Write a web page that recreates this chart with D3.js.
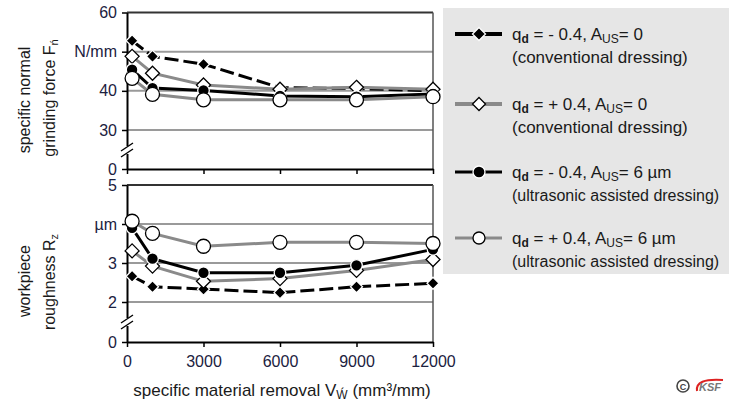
<!DOCTYPE html>
<html><head><meta charset="utf-8">
<script src="https://cdn.jsdelivr.net/npm/d3@7"></script>
<style>
body{margin:0;background:#fff}
svg{display:block}
text{font-family:"Liberation Sans",Arial,sans-serif}
</style>
</head><body><svg id="chart" width="729" height="403"></svg>
<script>
// specific material removal V'w (mm³/mm)
const removal = [200, 1000, 3000, 6000, 9000, 12000];
const xTicks = [0, 3000, 6000, 9000, 12000];

// specific normal grinding force F'n (N/mm)
const forceConvNeg  = [52.8, 48.8, 46.8, 40.8, 40.6, 40.0];
const forceConvPos  = [48.8, 44.5, 41.5, 40.4, 40.9, 40.4];
const forceUltraNeg = [45.4, 40.7, 40.1, 38.7, 38.5, 39.2];
const forceUltraPos = [43.2, 39.1, 37.7, 37.7, 37.7, 38.5];

// workpiece roughness Rz (µm)
const roughConvNeg  = [2.66, 2.39, 2.33, 2.24, 2.39, 2.48];
const roughConvPos  = [3.31, 2.92, 2.53, 2.60, 2.81, 3.09];
const roughUltraNeg = [3.90, 3.11, 2.75, 2.75, 2.94, 3.35];
const roughUltraPos = [4.07, 3.76, 3.43, 3.53, 3.53, 3.50];

const forceTicks = [0, 30, 40, 50, 60];
const forceTickText = {50: "N/mm"};
const roughTicks = [0, 2, 3, 4, 5];
const roughTickText = {4: "µm"};

const seriesStyle = [
  {line: "#000", width: 3, dash: "14,5", marker: "diamond", fill: "#000", stroke: "#fff", size: 6},
  {line: "#8a8a8a", width: 3, dash: null, marker: "diamond", fill: "#fff", stroke: "#000", size: 7},
  {line: "#000", width: 3, dash: null, marker: "circle", fill: "#000", stroke: "#fff", size: 5.8},
  {line: "#8a8a8a", width: 3, dash: null, marker: "circle", fill: "#fff", stroke: "#000", size: 7}
];

const svg = d3.select("#chart");
const x = d3.scaleLinear().domain([0, 12000]).range([127, 433]);
const yForce = d3.scaleLinear().domain([0, 30, 60]).range([169, 130, 12.5]);
const yRough = d3.scaleLinear().domain([0, 2, 5]).range([342, 302, 185]);

function drawMarker(g, style, cx, cy) {
  if (style.marker === "diamond") {
    const s = style.size;
    g.append("path")
      .attr("d", `M${cx},${cy - s}L${cx + s},${cy}L${cx},${cy + s}L${cx - s},${cy}Z`)
      .attr("fill", style.fill).attr("stroke", style.stroke).attr("stroke-width", 1.3);
  } else {
    g.append("circle").attr("cx", cx).attr("cy", cy).attr("r", style.size)
      .attr("fill", style.fill).attr("stroke", style.stroke).attr("stroke-width", 1.3);
  }
}

function panel(y, ticks, tickText, grid, top, breakY, series, showXLabels) {
  const g = svg.append("g");
  // horizontal grid
  g.selectAll(".grid").data(grid).join("line")
    .attr("x1", x(0)).attr("x2", x(12000))
    .attr("y1", d => y(d)).attr("y2", d => y(d))
    .attr("stroke", "#9a9a9a").attr("stroke-width", 2);
  // frame: top and right
  g.append("line").attr("x1", x(0)).attr("x2", x(12000)).attr("y1", y(top)).attr("y2", y(top))
    .attr("stroke", "#333").attr("stroke-width", 2);
  g.append("line").attr("x1", x(12000)).attr("x2", x(12000)).attr("y1", y(top)).attr("y2", y(0))
    .attr("stroke", "#555").attr("stroke-width", 1.5);

  // x axis
  const xa = g.append("g").attr("transform", `translate(0,${y(0)})`)
    .call(d3.axisBottom(x).tickValues(xTicks).tickSize(5).tickSizeOuter(0)
      .tickFormat(showXLabels ? d3.format("d") : () => ""));
  xa.select(".domain").attr("stroke", "#000").attr("stroke-width", 2);
  xa.selectAll(".tick line").attr("stroke", "#000").attr("stroke-width", 1.5);
  xa.selectAll(".tick text").attr("font-size", 16).attr("fill", "#1b2140")
    .attr("font-family", '"Liberation Sans",Arial,sans-serif').attr("dy", "1.05em");

  // y axis
  const ya = g.append("g").attr("transform", `translate(${x(0)},0)`)
    .call(d3.axisLeft(y).tickValues(ticks).tickSize(5).tickSizeOuter(0)
      .tickFormat(d => tickText[d] || String(d)));
  ya.select(".domain").attr("stroke", "#000").attr("stroke-width", 2);
  ya.selectAll(".tick line").attr("stroke", "#000").attr("stroke-width", 1.5);
  ya.selectAll(".tick text").attr("font-size", 16).attr("fill", "#1b2140")
    .attr("font-family", '"Liberation Sans",Arial,sans-serif').attr("x", -10);

  // axis break
  g.append("rect").attr("x", x(0) - 3).attr("y", breakY - 4).attr("width", 6).attr("height", 8).attr("fill", "#fff");
  [-3, 3].forEach(off => {
    g.append("line")
      .attr("x1", x(0) - 6).attr("y1", breakY + off + 4)
      .attr("x2", x(0) + 6).attr("y2", breakY + off - 4)
      .attr("stroke", "#000").attr("stroke-width", 1.4);
  });

  // series
  const line = d3.line().x((d, i) => x(removal[i])).y(d => y(d));
  series.forEach((vals, k) => {
    const st = seriesStyle[k];
    g.append("path").datum(vals).attr("d", line).attr("fill", "none")
      .attr("stroke", st.line).attr("stroke-width", st.width)
      .attr("stroke-dasharray", st.dash);
    const mg = g.append("g");
    vals.forEach((v, i) => drawMarker(mg, st, x(removal[i]), y(v)));
  });
}

panel(yForce, forceTicks, forceTickText, [30, 40, 50], 60, 150,
  [forceConvNeg, forceConvPos, forceUltraNeg, forceUltraPos], false);
panel(yRough, roughTicks, roughTickText, [2, 3, 4], 5, 322,
  [roughConvNeg, roughConvPos, roughUltraNeg, roughUltraPos], true);

// axis titles
function rotTitle(cx, cy, build) {
  const t = svg.append("text").attr("transform", `translate(${cx},${cy}) rotate(-90)`)
    .attr("text-anchor", "middle").attr("font-size", 16).attr("fill", "#1a1a1a");
  build(t);
}
rotTitle(30, 100, t => t.text("specific normal"));
rotTitle(55, 98, t => {
  t.append("tspan").text("grinding force F");
  t.append("tspan").attr("font-size", 11).attr("dy", 3).text("ń");
});
rotTitle(30, 281, t => t.text("workpiece"));
rotTitle(55, 282, t => {
  t.append("tspan").text("roughness R");
  t.append("tspan").attr("font-size", 11).attr("dy", 3).text("z");
});

const xt = svg.append("text").attr("x", 282).attr("y", 396).attr("text-anchor", "middle")
  .attr("font-size", 17).attr("fill", "#1a1a1a");
xt.append("tspan").text("specific material removal V");
xt.append("tspan").attr("font-size", 12).attr("dy", 3).text("Ẃ");
xt.append("tspan").attr("dy", -3).text(" (mm³/mm)");

// legend
const legendRows = [
  {y: 34, line1: ["- 0.4", "0"], line2: "(conventional dressing)", size2: 17},
  {y: 104, line1: ["+ 0.4", "0"], line2: "(conventional dressing)", size2: 17},
  {y: 172, line1: ["- 0.4", "6 µm"], line2: "(ultrasonic assisted dressing)", size2: 16},
  {y: 238, line1: ["+ 0.4", "6 µm"], line2: "(ultrasonic assisted dressing)", size2: 16}
];
const lg = svg.append("g");
lg.append("rect").attr("x", 443).attr("y", 8).attr("width", 290).attr("height", 266).attr("fill", "#e6e6e6");
legendRows.forEach((r, k) => {
  const st = seriesStyle[k];
  lg.append("line").attr("x1", 455).attr("x2", 502).attr("y1", r.y).attr("y2", r.y)
    .attr("stroke", st.line).attr("stroke-width", k < 2 ? 4 : 3);
  const ms = Object.assign({}, st, {stroke: st.fill === "#000" ? "#fff" : "#000",
    size: st.marker === "diamond" ? 6.5 : 6});
  drawMarker(lg, ms, 479, r.y);
  const t1 = lg.append("text").attr("x", 512).attr("y", r.y + 6).attr("font-size", 17).attr("fill", "#1a1a1a");
  t1.append("tspan").text("q");
  t1.append("tspan").attr("font-size", 12).attr("font-weight", "bold").attr("dy", 3).text("d");
  t1.append("tspan").attr("dy", -3).text(` = ${r.line1[0]}, A`);
  t1.append("tspan").attr("font-size", 12).attr("dy", 3).text("US");
  t1.append("tspan").attr("dy", -3).text(`= ${r.line1[1]}`);
  lg.append("text").attr("x", 512).attr("y", r.y + 29).attr("font-size", r.size2).attr("fill", "#1a1a1a")
    .text(r.line2);
});

// logo
const logo = svg.append("g").attr("transform", "translate(683,386)");
logo.append("circle").attr("r", 6).attr("fill", "none").attr("stroke", "#444").attr("stroke-width", 1.6);
logo.append("text").attr("text-anchor", "middle").attr("y", 3.5).attr("font-size", 9)
  .attr("font-weight", "bold").attr("fill", "#444").text("C");
logo.append("path").attr("d", "M14,5 Q12,-8 40,-6").attr("fill", "none").attr("stroke", "#d22").attr("stroke-width", 2);
logo.append("text").attr("x", 16).attr("y", 5).attr("font-size", 11).attr("font-weight", "bold")
  .attr("font-style", "italic").attr("fill", "#777").text("KSF");
</script></body></html>
